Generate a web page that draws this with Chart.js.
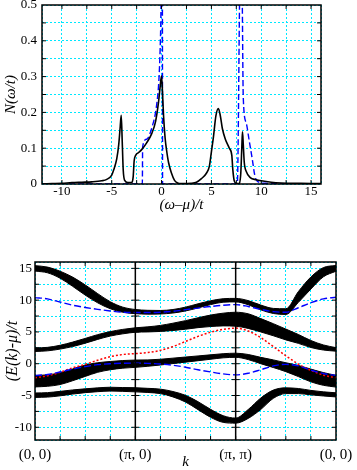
<!DOCTYPE html>
<html>
<head>
<meta charset="utf-8">
<script src="https://cdn.jsdelivr.net/npm/chart.js@4"></script>
<style>
  html, body { margin: 0; padding: 0; background: #fff; }
  #wrap { position: relative; width: 357px; height: 470px; }
  #dos { position: absolute; left: 0; top: 0; }
  #bands { position: absolute; left: 0; top: 240px; }
</style>
</head>
<body>
<div id="wrap">
  <canvas id="dos" width="357" height="220"></canvas>
  <canvas id="bands" width="357" height="230"></canvas>
</div>
<script>
// ---- top panel: N(w) ----
const dosOmega = [-12, -11, -10, -9, -8, -7, -6, -5.5, -5, -4.8, -4.5, -4.3, -4.15, -4.05, -3.95, -3.85, -3.7, -3.4,
  -3.0, -2.85, -2.75, -2.6, -2.3, -2.0, -1.5, -1.0, -0.6, -0.3, -0.15, 0, 0.1, 0.2, 0.35, 0.5, 0.7, 1.0, 1.3, 1.6,
  2, 3, 3.5, 4.0, 4.5, 4.8, 5.0, 5.2, 5.45, 5.7, 5.9, 6.1, 6.4, 6.8, 7.05, 7.15, 7.3, 7.5, 7.8, 7.95, 8.05, 8.12,
  8.2, 8.3, 8.5, 8.9, 9.5, 10, 11, 12, 14, 16];
const dosTotal = [0, 0.001, 0.002, 0.004, 0.005, 0.006, 0.009, 0.013, 0.025, 0.04, 0.07, 0.11, 0.16, 0.192, 0.12, 0.04, 0.01, 0.004,
  0.004, 0.02, 0.065, 0.08, 0.088, 0.096, 0.115, 0.14, 0.175, 0.23, 0.27, 0.302, 0.25, 0.19, 0.13, 0.095, 0.06, 0.03, 0.01, 0.003,
  0.001, 0.002, 0.005, 0.015, 0.03, 0.05, 0.09, 0.13, 0.19, 0.211, 0.19, 0.155, 0.125, 0.1, 0.08, 0.04, 0.008, 0.002, 0.001, 0.03, 0.1, 0.146,
  0.11, 0.06, 0.035, 0.018, 0.012, 0.009, 0.005, 0.003, 0.002, 0.001];
const dosBlueOmega = [-12, -1.93, -1.9, -1.5, -1.0, -0.5, -0.25, -0.1, 0.02, 0.08, 0.1,
  7.6, 7.9, 8.05, 8.2, 8.5, 8.8, 9.1, 9.35, 9.6, 10.4, 16];
const dosBlue = [0, 0, 0.104, 0.125, 0.155, 0.22, 0.3, 0.42, 0.6, 0.6, 0,
  0, 0.6, 0.6, 0.24, 0.17, 0.12, 0.07, 0.025, 0.008, 0.002, 0];
const dosXGrid = [-12, -10, -7.5, -5, -2.5, 0, 2.5, 5, 7.5, 10, 12.5, 15, 16];
const dosXLabels = [-10, -5, 0, 5, 10, 15];
const dosYGrid = [0, 0.05, 0.1, 0.15, 0.2, 0.25, 0.3, 0.35, 0.4, 0.45, 0.5];
const dosYLabels = [0, 0.1, 0.2, 0.3, 0.4, 0.5];

// ---- bottom panel: bands along (0,0)-(pi,0)-(pi,pi)-(0,0) ----
const kPath = [0, 0.125, 0.25, 0.375, 0.5, 0.625, 0.75, 0.875, 1, 1.125, 1.25, 1.375, 1.5,
  1.625, 1.75, 1.875, 2, 2.125, 2.25, 2.375, 2.5, 2.625, 2.75, 2.875, 3];
const kGrid = [0, 0.25, 0.5, 0.75, 1, 1.25, 1.5, 1.75, 2, 2.25, 2.5, 2.75, 3];
const kLabels = ['(0, 0)', '(π, 0)', '(π, π)', '(0, 0)'];
const bandYGrid = [-12, -10, -7.5, -5, -2.5, 0, 2.5, 5, 7.5, 10, 12.5, 15, 16];
const bandYLabels = [-10, -5, 0, 5, 10, 15];

const band1 = [15.0, 14.75, 14.0, 12.9, 11.6, 10.3, 9.2, 8.5, 8.2, 8.1, 8.1, 8.25, 8.6,
  9.1, 9.6, 9.95, 10.0, 9.6, 8.85, 8.3, 8.2, 10.5, 12.7, 14.4, 15.0];
const band1W = [0.85, 0.9, 1.1, 1.45, 1.6, 1.45, 1.1, 0.8, 0.65, 0.6, 0.55, 0.55, 0.6,
  0.65, 0.6, 0.55, 0.55, 0.65, 0.75, 0.8, 0.9, 1.7, 1.9, 1.45, 0.9];
const band2 = [2.2, 2.3, 2.6, 3.05, 3.6, 4.2, 4.7, 5.05, 5.3, 5.4, 5.55, 5.8, 6.1,
  6.45, 6.75, 6.95, 7.0, 6.7, 6.05, 5.35, 4.6, 3.9, 3.1, 2.55, 2.25];
const band2W = [0.55, 0.55, 0.6, 0.7, 0.75, 0.75, 0.7, 0.7, 0.7, 0.8, 0.95, 1.15, 1.35,
  1.55, 1.8, 2.0, 2.2, 2.3, 2.1, 1.9, 1.7, 1.4, 1.1, 0.8, 0.55];
const band3 = [-2.75, -2.65, -2.35, -1.75, -1.1, -0.6, -0.3, -0.1, 0.0, 0.1, 0.25, 0.45, 0.65,
  0.85, 1.05, 1.25, 1.33, 1.05, 0.5, 0.0, -0.55, -1.15, -1.85, -2.4, -2.75];
const band3W = [1.8, 1.8, 1.85, 1.85, 1.8, 1.5, 1.3, 1.2, 1.15, 1.0, 0.9, 0.85, 0.8,
  0.75, 0.7, 0.65, 0.65, 0.8, 1.0, 1.2, 1.4, 1.75, 2.0, 2.0, 1.85];
const band4 = [-4.95, -4.9, -4.7, -4.45, -4.25, -4.1, -4.0, -4.05, -4.1, -4.2, -4.35, -4.8, -5.5,
  -6.6, -7.8, -8.7, -8.95, -7.9, -6.3, -4.8, -4.25, -4.3, -4.55, -4.75, -4.9];
const band4W = [0.7, 0.7, 0.7, 0.65, 0.6, 0.6, 0.6, 0.6, 0.65, 0.65, 0.7, 0.85, 1.05,
  1.25, 1.25, 1.05, 0.8, 1.4, 1.8, 1.3, 0.9, 0.8, 0.7, 0.65, 0.65];
const blueUpper = [10.4, 10.2, 9.7, 9.2, 8.85, 8.55, 8.3, 8.1, 8.05, 8.05, 8.1, 8.25, 8.5,
  8.75, 9.0, 9.2, 9.3, 9.0, 8.55, 8.2, 8.1, 8.8, 9.6, 10.2, 10.45];
const blueLower = [-1.85, -1.7, -1.3, -0.85, -0.45, -0.15, 0.0, 0.08, 0.1, 0.05, -0.05, -0.25, -0.55,
  -0.95, -1.3, -1.6, -1.75, -1.5, -0.95, -0.35, -0.1, -0.35, -1.0, -1.55, -1.85];
const redBand = [-2.2, -1.9, -1.35, -0.65, -0.1, 0.55, 1.1, 1.45, 1.6, 1.75, 2.1, 2.7, 3.5,
  4.3, 4.95, 5.4, 5.6, 5.15, 4.1, 2.7, 1.25, -0.05, -1.05, -1.8, -2.2];

const SERIF = "'Liberation Serif', 'DejaVu Serif', serif";
const GRID = '#00e8ff';

const xy = (xs, ys) => xs.map((x, i) => ({ x, y: ys[i] }));
const near = (list, v) => list.find(t => Math.abs(t - v) < 1e-6);

function fatBand(center, width) {
  const up = center.map((e, i) => e + width[i] / 2);
  const lo = center.map((e, i) => e - width[i] / 2);
  return [
    { data: xy(kPath, up), borderColor: '#000', borderWidth: 1, fill: false },
    { data: xy(kPath, lo), borderColor: '#000', borderWidth: 1, fill: '-1', backgroundColor: '#000' }
  ];
}

// black frame with inward ticks, plus the vertical lines at the k points
const framePlugin = {
  id: 'frame',
  afterDatasetsDraw(chart, args, opts) {
    const { ctx, chartArea: a, scales } = chart;
    const len = opts.tick || 4;
    const dividers = (opts.dividers || []).map(v => scales.x.getPixelForValue(v));
    ctx.save();
    ctx.strokeStyle = '#000';
    ctx.lineWidth = 1.5;
    ctx.beginPath();
    dividers.forEach(px => { ctx.moveTo(px, a.top); ctx.lineTo(px, a.bottom); });
    ctx.stroke();
    ctx.lineWidth = 1;
    ctx.beginPath();
    scales.x.ticks.forEach(t => {
      const px = scales.x.getPixelForValue(t.value);
      if (px <= a.left + 1 || px >= a.right - 1) return;
      ctx.moveTo(px, a.top); ctx.lineTo(px, a.top + len);
      ctx.moveTo(px, a.bottom); ctx.lineTo(px, a.bottom - len);
    });
    scales.y.ticks.forEach(t => {
      const py = scales.y.getPixelForValue(t.value);
      if (py <= a.top + 1 || py >= a.bottom - 1) return;
      ctx.moveTo(a.left, py); ctx.lineTo(a.left + len, py);
      ctx.moveTo(a.right, py); ctx.lineTo(a.right - len, py);
      dividers.forEach(px => { ctx.moveTo(px - len, py); ctx.lineTo(px + len, py); });
    });
    ctx.stroke();
    ctx.lineWidth = 1.5;
    ctx.strokeRect(a.left, a.top, a.width, a.height);
    ctx.restore();
  }
};

function axisBase(grid) {
  return {
    type: 'linear',
    grid: { color: GRID, lineWidth: 1, drawTicks: false },
    border: { display: false, dash: [2, 2] },
    ticks: { autoSkip: false, maxRotation: 0, color: '#000', font: { family: SERIF, size: 13 } },
    afterBuildTicks: s => { s.ticks = grid.map(value => ({ value })); }
  };
}

const common = {
  responsive: false,
  animation: false,
  events: [],
  elements: {
    point: { radius: 0 },
    line: { cubicInterpolationMode: 'monotone', borderJoinStyle: 'round' }
  }
};

// top chart
const dosX = axisBase(dosXGrid);
dosX.min = -12; dosX.max = 16;
dosX.ticks.padding = 0;
dosX.ticks.callback = v => (near(dosXLabels, v) !== undefined ? String(v) : '');
dosX.title = { display: true, text: '(ω–μ)/t', color: '#000', padding: { top: 0, bottom: 6 },
  font: { family: SERIF, size: 15, style: 'italic' } };
dosX.afterFit = s => { s.height = 36; s.paddingLeft = 0; s.paddingRight = 0; };

const dosY = axisBase(dosYGrid);
dosY.min = 0; dosY.max = 0.5;
dosY.ticks.padding = 5;
dosY.ticks.callback = v => { const t = near(dosYLabels, v); return t !== undefined ? String(t) : ''; };
dosY.title = { display: true, text: 'N(ω/t)', color: '#000', padding: { top: 2, bottom: 0 },
  font: { family: SERIF, size: 15, style: 'italic' } };
dosY.afterFit = s => { s.width = 42; s.paddingTop = 0; s.paddingBottom = 0; };

new Chart(document.getElementById('dos'), {
  type: 'line',
  data: {
    datasets: [
      { data: xy(dosOmega, dosTotal), borderColor: '#000', borderWidth: 1.6, fill: false },
      { data: xy(dosBlueOmega, dosBlue), borderColor: '#0000ff', borderWidth: 1.4, borderDash: [6, 3], fill: false }
    ]
  },
  options: Object.assign({}, common, {
    layout: { padding: { top: 5, right: 36, bottom: 0, left: 0 } },
    scales: { x: dosX, y: dosY },
    plugins: { legend: { display: false }, tooltip: { enabled: false }, frame: { tick: 4 } }
  }),
  plugins: [framePlugin]
});

// bottom chart
const bandX = axisBase(kGrid);
bandX.min = 0; bandX.max = 3;
bandX.ticks.padding = 6;
bandX.ticks.font = { family: SERIF, size: 15 };
bandX.ticks.callback = v => (Number.isInteger(v) ? kLabels[v] : '');
bandX.title = { display: true, text: 'k', color: '#000', padding: 0,
  font: { family: SERIF, size: 15, style: 'italic', lineHeight: 1 } };
bandX.afterFit = s => { s.height = 30; s.paddingLeft = 0; s.paddingRight = 0; };

const bandY = axisBase(bandYGrid);
bandY.min = -12; bandY.max = 16;
bandY.ticks.padding = 3;
bandY.ticks.callback = v => (near(bandYLabels, v) !== undefined ? String(v) : '');
bandY.title = { display: true, text: '(E(k)-μ)/t', color: '#000', padding: { top: 3, bottom: 0 },
  font: { family: SERIF, size: 16, style: 'italic' } };
bandY.afterFit = s => { s.width = 35; s.paddingTop = 0; s.paddingBottom = 0; };

new Chart(document.getElementById('bands'), {
  type: 'line',
  data: {
    datasets: [
      { data: xy(kPath, blueUpper), borderColor: '#0000ff', borderWidth: 1.4, borderDash: [7, 3], fill: false },
      { data: xy(kPath, blueLower), borderColor: '#0000ff', borderWidth: 1.4, borderDash: [7, 3], fill: false },
      { data: xy(kPath, redBand), borderColor: '#ff0000', borderWidth: 1.5, borderDash: [2, 2], fill: false },
      ...fatBand(band1, band1W),
      ...fatBand(band2, band2W),
      ...fatBand(band3, band3W),
      ...fatBand(band4, band4W)
    ]
  },
  options: Object.assign({}, common, {
    layout: { padding: { top: 22, right: 21, bottom: 0, left: 0 } },
    scales: { x: bandX, y: bandY },
    plugins: { legend: { display: false }, tooltip: { enabled: false }, frame: { tick: 4, dividers: [1, 2] } }
  }),
  plugins: [framePlugin]
});
</script>
</body>
</html>
